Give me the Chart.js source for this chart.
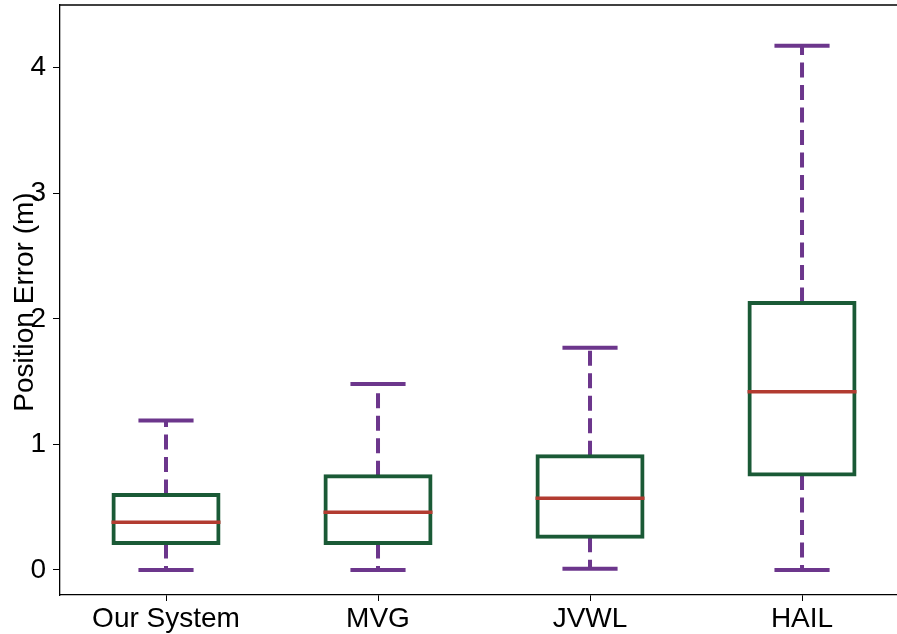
<!DOCTYPE html>
<html>
<head>
<meta charset="utf-8">
<script src="https://cdn.jsdelivr.net/npm/chart.js@4/dist/chart.umd.min.js"></script>
<style>
  html, body { margin: 0; padding: 0; background: #fff; overflow: hidden; }
  canvas { display: block; }
</style>
</head>
<body>
<canvas id="c" width="897" height="634"></canvas>
<script>
// Position error statistics per method (metres)
const categories = ['Our System', 'MVG', 'JVWL', 'HAIL'];
const whiskerLow  = [0.00, 0.00, 0.01, 0.00];
const quartile1   = [0.21, 0.21, 0.26, 0.755];
const medians     = [0.38, 0.46, 0.57, 1.42];
const quartile3   = [0.60, 0.75, 0.91, 2.13];
const whiskerHigh = [1.19, 1.48, 1.77, 4.175];
const yTicks = [0, 1, 2, 3, 4];

const FONT = '"Liberation Sans", Arial, Helvetica, sans-serif';
const PURPLE = '#6c368c';
const GREEN = '#1a5a36';
const RED = '#b23b30';

// Whiskers (dashed, under the boxes) and medians (on top of the boxes)
const boxExtras = {
  id: 'boxExtras',
  beforeDatasetsDraw(chart) {
    const { ctx, scales: { x, y } } = chart;
    ctx.save();
    ctx.strokeStyle = PURPLE;
    ctx.lineWidth = 4;
    categories.forEach((_, i) => {
      const cx = x.getPixelForValue(i + 1);
      const capHalf = Math.abs(x.getPixelForValue(i + 1.13) - cx);
      const segs = [[quartile3[i], whiskerHigh[i]], [quartile1[i], whiskerLow[i]]];
      segs.forEach(([from, to]) => {
        ctx.setLineDash([15, 7.5]);
        ctx.lineDashOffset = 0;
        ctx.beginPath();
        ctx.moveTo(cx, y.getPixelForValue(from));
        ctx.lineTo(cx, y.getPixelForValue(to));
        ctx.stroke();
        ctx.setLineDash([]);
        ctx.beginPath();
        ctx.moveTo(cx - capHalf, y.getPixelForValue(to));
        ctx.lineTo(cx + capHalf, y.getPixelForValue(to));
        ctx.stroke();
      });
    });
    ctx.restore();
  },
  afterDatasetsDraw(chart) {
    const { ctx, chartArea, scales: { y } } = chart;
    const meta = chart.getDatasetMeta(0);
    ctx.save();
    ctx.strokeStyle = RED;
    ctx.lineWidth = 3.5;
    meta.data.forEach((bar, i) => {
      const half = bar.width / 2 + 1.5;
      const py = y.getPixelForValue(medians[i]);
      ctx.beginPath();
      ctx.moveTo(bar.x - half, py);
      ctx.lineTo(bar.x + half, py);
      ctx.stroke();
    });
    // top frame line
    ctx.strokeStyle = '#000';
    ctx.lineWidth = 1.3;
    ctx.beginPath();
    ctx.moveTo(chartArea.left, chartArea.top);
    ctx.lineTo(chart.width, chartArea.top);
    ctx.stroke();
    // y axis title
    ctx.fillStyle = '#000';
    ctx.font = '28px ' + FONT;
    ctx.textAlign = 'center';
    ctx.textBaseline = 'alphabetic';
    ctx.translate(33, (chartArea.top + chartArea.bottom) / 2 + 2);
    ctx.rotate(-Math.PI / 2);
    ctx.fillText('Position Error (m)', 0, 0);
    ctx.restore();
  }
};

new Chart(document.getElementById('c'), {
  type: 'bar',
  data: {
    datasets: [{
      label: 'IQR',
      data: categories.map((_, i) => ({ x: i + 1, y: [quartile1[i], quartile3[i]] })),
      backgroundColor: 'rgba(255,255,255,0)',
      borderColor: GREEN,
      borderWidth: 1,
      inflateAmount: 1.5,
      borderSkipped: false,
      categoryPercentage: 0.5,
      barPercentage: 1
    }]
  },
  options: {
    responsive: false,
    animation: false,
    events: [],
    layout: { padding: { top: 5, left: 0, right: 0, bottom: 0 } },
    plugins: { legend: { display: false }, tooltip: { enabled: false }, title: { display: false } },
    scales: {
      x: {
        type: 'linear',
        min: 0.5,
        max: 4.448,
        offset: false,
        afterBuildTicks(scale) { scale.ticks = categories.map((_, i) => ({ value: i + 1 })); },
        afterFit(scale) { scale.height = 39; scale.paddingLeft = 0; scale.paddingRight = 0; },
        grid: { drawOnChartArea: false, drawTicks: true, tickLength: 6, color: '#000', lineWidth: 1, offset: false },
        border: { display: true, color: '#000', width: 1.3 },
        ticks: {
          autoSkip: false, maxRotation: 0, minRotation: 0, padding: 1, color: '#000',
          font: { size: 28, family: FONT },
          callback: (v) => categories[Math.round(v) - 1]
        }
      },
      y: {
        type: 'linear',
        min: -0.2,
        max: 4.5,
        afterBuildTicks(scale) { scale.ticks = yTicks.map(v => ({ value: v })); },
        afterFit(scale) { scale.width = 60; scale.paddingTop = 0; scale.paddingBottom = 0; },
        grid: { drawOnChartArea: false, drawTicks: true, tickLength: 7, color: '#000', lineWidth: 1 },
        border: { display: true, color: '#000', width: 1.3 },
        ticks: { padding: 7, color: '#000', font: { size: 28, family: FONT }, callback: (v) => String(v) }
      }
    }
  },
  plugins: [boxExtras]
});
</script>
</body>
</html>
